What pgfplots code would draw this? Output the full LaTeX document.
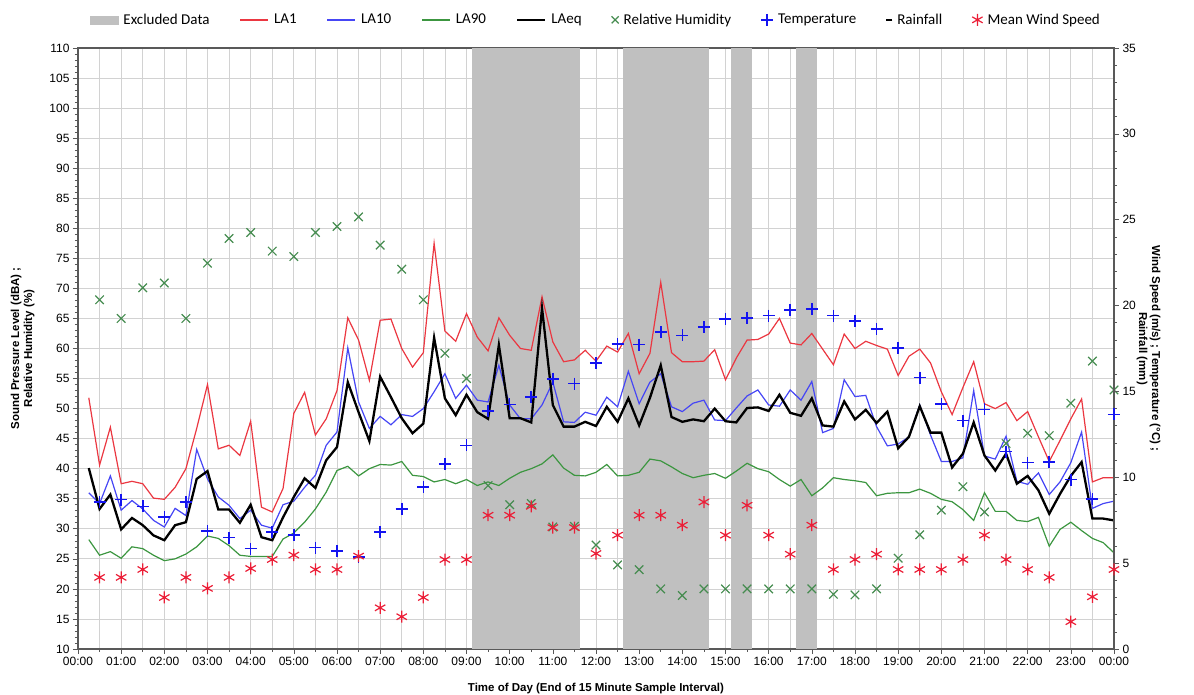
\documentclass[border=0pt]{standalone}
\usepackage{fontspec}
\setmainfont{Liberation Sans}
\newfontfamily\legfont{Carlito}
\usepackage{pgfplots}
\usepackage{pgfplotstable}
\pgfplotsset{compat=1.18}
\definecolor{cLAone}{RGB}{235,55,65}
\definecolor{cLAten}{RGB}{70,70,245}
\definecolor{cLAninety}{RGB}{60,150,64}
\definecolor{cRH}{RGB}{70,140,80}
\definecolor{cTemp}{RGB}{20,20,240}
\definecolor{cWind}{RGB}{235,30,55}
\definecolor{excl}{RGB}{192,192,192}
\definecolor{gridc}{RGB}{210,210,210}

\pgfplotstableread{
h la1 la10 la90 laeq
0.25 51.8 36.0 28.2 40.1
0.5 40.6 34.2 25.6 33.3
0.75 46.9 38.8 26.2 35.7
1 37.5 33.1 25.1 29.9
1.25 37.9 34.7 27.0 31.8
1.5 37.5 33.3 26.7 30.6
1.75 35.1 31.4 25.6 28.9
2 34.9 30.3 24.7 28.1
2.25 36.9 33.4 25.0 30.6
2.5 40.0 32.2 25.8 31.1
2.75 46.7 43.2 27.0 38.3
3 54.0 38.3 28.8 39.6
3.25 43.3 35.3 28.4 33.2
3.5 43.9 33.9 27.2 33.2
3.75 42.2 31.7 25.6 31.0
4 47.9 33.1 25.4 34.0
4.25 33.6 30.6 25.4 28.6
4.5 32.8 30.1 25.4 28.1
4.75 36.7 34.0 28.3 31.9
5 49.2 34.6 29.3 35.3
5.25 52.7 36.9 31.1 38.4
5.5 45.6 38.9 33.3 36.8
5.75 48.3 43.9 36.1 41.4
6 53.0 46.1 39.7 43.6
6.25 65.1 60.1 40.4 54.4
6.5 61.4 51.1 38.8 49.4
6.75 54.7 46.7 40.0 44.6
7 64.7 48.7 40.7 55.3
7.25 64.9 47.3 40.6 51.9
7.5 60.0 49.0 41.2 48.4
7.75 56.9 48.7 38.9 45.9
8 59.3 50.0 38.7 47.5
8.25 77.5 52.8 37.8 61.8
8.5 62.9 55.8 38.2 51.7
8.75 61.2 51.7 37.5 48.9
9 65.8 53.9 38.2 52.3
9.25 61.9 51.4 37.2 49.4
9.5 59.6 51.1 37.8 48.3
9.75 65.1 57.2 37.2 60.6
10 62.2 50.6 38.4 48.4
10.25 60.0 48.3 39.4 48.4
10.5 59.7 48.3 40.0 47.7
10.75 68.6 50.6 40.8 66.7
11 61.1 54.4 42.3 50.6
11.25 57.8 47.8 40.1 47.0
11.5 58.1 47.7 38.9 47.0
11.75 59.7 49.4 38.8 47.8
12 57.9 48.9 39.4 47.1
12.25 60.4 51.9 40.7 50.3
12.5 59.4 50.3 38.8 47.8
12.75 62.5 56.2 38.9 51.7
13 55.8 50.8 39.4 47.2
13.25 59.2 54.4 41.6 51.8
13.5 71.0 55.8 41.3 57.2
13.75 59.3 50.3 40.3 48.6
14 57.8 49.5 39.2 47.8
14.25 57.8 50.9 38.5 48.2
14.5 57.9 51.4 38.9 47.9
14.75 59.8 48.1 39.2 50.0
15 54.8 48.0 38.4 47.9
15.25 58.4 50.1 39.6 47.7
15.5 61.4 52.1 40.9 50.1
15.75 61.5 53.1 40.0 50.2
16 62.4 50.6 39.5 49.6
16.25 65.0 50.4 38.2 52.3
16.5 60.9 53.1 37.1 49.3
16.75 60.6 51.4 38.2 48.8
17 62.5 54.5 35.5 51.7
17.25 59.9 46.0 36.8 47.2
17.5 57.3 46.7 38.5 47.0
17.75 62.4 54.8 38.2 51.2
18 60.0 52.0 38.0 48.2
18.25 61.2 52.2 37.7 49.8
18.5 60.5 47.0 35.5 47.6
18.75 59.9 43.8 35.9 49.5
19 55.5 44.1 36.0 43.4
19.25 58.7 45.3 36.0 45.3
19.5 59.9 50.6 36.6 50.4
19.75 57.6 45.6 35.9 46.0
20 52.8 41.2 34.9 46.0
20.25 49.0 41.2 34.5 40.2
20.5 53.5 41.8 33.2 42.5
20.75 57.8 53.0 31.4 47.7
21 50.8 42.1 36.0 42.2
21.25 50.0 41.6 32.9 39.7
21.5 51.0 45.4 32.9 42.5
21.75 48.0 37.9 31.4 37.5
22 49.5 37.4 31.2 38.8
22.25 45.3 39.3 31.9 36.4
22.5 41.2 35.7 27.1 32.5
22.75 44.7 37.8 29.9 35.8
23 48.3 41.0 31.1 38.8
23.25 51.6 46.1 29.7 41.1
23.5 37.8 33.4 28.4 31.7
23.75 38.5 34.2 27.7 31.7
24 38.5 34.6 26.0 31.4
}\noisedata

\pgfplotstableread{
h rh temp wind
0.5 68.1 8.56 4.17
1 65.0 8.70 4.17
1.5 70.1 8.31 4.63
2 70.9 7.69 3.00
2.5 65.0 8.56 4.17
3 74.2 6.88 3.53
3.5 78.3 6.49 4.17
4 79.3 5.85 4.69
4.5 76.2 6.82 5.21
5 75.3 6.63 5.47
5.5 79.3 5.91 4.63
6 80.3 5.72 4.63
6.5 81.9 5.37 5.41
7 77.2 6.82 2.40
7.5 73.2 8.17 1.88
8 68.1 9.44 3.00
8.5 59.2 10.76 5.21
9 55.0 11.86 5.21
9.5 37.2 13.86 7.79
10 34.0 14.24 7.79
10.5 34.2 14.67 8.31
11 30.3 15.74 7.07
11.5 30.4 15.45 7.07
12 27.3 16.65 5.56
12.5 24.0 17.77 6.63
13 23.2 17.73 7.79
13.5 20.0 18.45 7.79
14 18.9 18.26 7.21
14.5 20.0 18.74 8.56
15 20.0 19.22 6.63
15.5 20.0 19.28 8.37
16 20.0 19.42 6.63
16.5 20.0 19.75 5.52
17 20.0 19.81 7.21
17.5 19.1 19.42 4.63
18 19.0 19.09 5.21
18.5 20.0 18.64 5.52
19 25.1 17.54 4.63
19.5 29.0 15.80 4.63
20 33.1 14.28 4.63
20.5 37.0 13.30 5.21
21 32.8 13.95 6.63
21.5 44.2 11.50 5.21
22 45.9 10.86 4.63
22.5 45.5 10.89 4.17
23 50.9 9.87 1.59
23.5 57.9 8.73 3.04
24 53.1 13.66 4.63
}\metdata

\begin{document}
\begin{tikzpicture}
\path[use as bounding box] (-78pt,-46pt) rectangle (1116pt,649pt);
\begin{axis}[
  scale only axis, width=1036pt, height=601pt,
  xmin=0, xmax=24, ymin=10, ymax=110,
  xtick={0,1,...,24},
  xticklabels={00:00,01:00,02:00,03:00,04:00,05:00,06:00,07:00,08:00,09:00,10:00,11:00,12:00,13:00,14:00,15:00,16:00,17:00,18:00,19:00,20:00,21:00,22:00,23:00,00:00},
  minor x tick num=1,
  ytick={10,15,...,110}, minor y tick num=4,
  xmajorgrids, xminorgrids, ymajorgrids,
  grid style={gridc, line width=0.7pt},
  minor grid style={gridc, line width=0.7pt},
  tick align=outside, xtick pos=bottom, ytick pos=left,
  major tick length=5pt, minor tick length=3pt,
  tick style={black!65, line width=0.6pt},
  axis line style={black!65, line width=1.2pt},
  /pgf/number format/assume math mode=true,
  ticklabel style={font=\fontsize{12}{14}\selectfont},
  xlabel={Time of Day (End of 15 Minute Sample Interval)},
  xlabel style={font=\fontsize{11.5}{13}\selectfont\bfseries, yshift=-10pt},
  ylabel={Sound Pressure Level (dBA) ;\\Relative Humidity (\%)},
  ylabel style={font=\fontsize{11.5}{13}\selectfont\bfseries, align=center},
  ylabel shift=8pt,
]
\addplot[fill=excl, draw=none, forget plot] coordinates {(9.125,10) (9.125,110) (11.625,110) (11.625,10)};
\addplot[fill=excl, draw=none, forget plot] coordinates {(12.625,10) (12.625,110) (14.625,110) (14.625,10)};
\addplot[fill=excl, draw=none, forget plot] coordinates {(15.125,10) (15.125,110) (15.625,110) (15.625,10)};
\addplot[fill=excl, draw=none, forget plot] coordinates {(16.625,10) (16.625,110) (17.125,110) (17.125,10)};
\addplot[cLAninety, line width=1.2pt, mark=none] table[x=h, y=la90] {\noisedata};
\addplot[cLAten, line width=1.2pt, mark=none] table[x=h, y=la10] {\noisedata};
\addplot[cLAone, line width=1.2pt, mark=none] table[x=h, y=la1] {\noisedata};
\addplot[black, line width=2.3pt, mark=none] table[x=h, y=laeq] {\noisedata};
\addplot[only marks, mark=x, mark size=6pt, draw=cRH, mark options={draw=cRH}, line width=1.2pt] table[x=h, y=rh] {\metdata};
\end{axis}
\begin{axis}[
  scale only axis, width=1036pt, height=601pt,
  xmin=0, xmax=24, ymin=0, ymax=35,
  axis x line=none, axis y line*=right,
  ytick={0,5,...,35}, minor y tick num=4,
  tick align=outside,
  major tick length=5pt, minor tick length=3pt,
  tick style={black!65, line width=0.6pt},
  axis line style={black!65, line width=1.2pt},
  /pgf/number format/assume math mode=true,
  ticklabel style={font=\fontsize{12}{14}\selectfont},
  ylabel={Wind Speed (m/s) ; Temperature (°C) ;\\Rainfall (mm)},
  ylabel style={font=\fontsize{11.5}{13}\selectfont\bfseries, align=center, rotate=180},
  ylabel shift=-6pt,
  legend columns=9,
  legend style={at={(0.5,1)}, anchor=south, yshift=18pt, draw=none, fill=none,
    font=\legfont\fontsize{15}{17}\selectfont,
    /tikz/every odd column/.append style={column sep=3pt},
    /tikz/every even column/.append style={column sep=28pt}},
]
\addlegendimage{legend image code/.code={\fill[excl] (0pt,-4pt) rectangle (28pt,4pt);}}
\addlegendentry{Excluded Data}
\addlegendimage{legend image code/.code={\draw[draw=cLAone, line width=1.5pt] (0pt,0pt) -- (28pt,0pt);}}
\addlegendentry{LA1}
\addlegendimage{legend image code/.code={\draw[draw=cLAten, line width=1.5pt] (0pt,0pt) -- (28pt,0pt);}}
\addlegendentry{LA10}
\addlegendimage{legend image code/.code={\draw[draw=cLAninety, line width=1.5pt] (0pt,0pt) -- (28pt,0pt);}}
\addlegendentry{LA90}
\addlegendimage{legend image code/.code={\draw[draw=black, line width=2.3pt] (0pt,0pt) -- (28pt,0pt);}}
\addlegendentry{LAeq}
\addlegendimage{only marks, mark=x, mark size=5pt, draw=cRH, mark options={draw=cRH}, line width=1.2pt}
\addlegendentry{Relative Humidity}
\addplot[only marks, mark=+, mark size=6pt, draw=cTemp, mark options={draw=cTemp}, line width=1.6pt] table[x=h, y=temp] {\metdata};
\addlegendentry{Temperature}
\addlegendimage{only marks, mark=-, mark size=3pt, draw=black, line width=2pt}
\addlegendentry{Rainfall}
\addplot[only marks, mark=asterisk, mark size=6pt, draw=cWind, mark options={draw=cWind}, line width=1.2pt] table[x=h, y=wind] {\metdata};
\addlegendentry{Mean Wind Speed}
\end{axis}
\end{tikzpicture}
\end{document}
